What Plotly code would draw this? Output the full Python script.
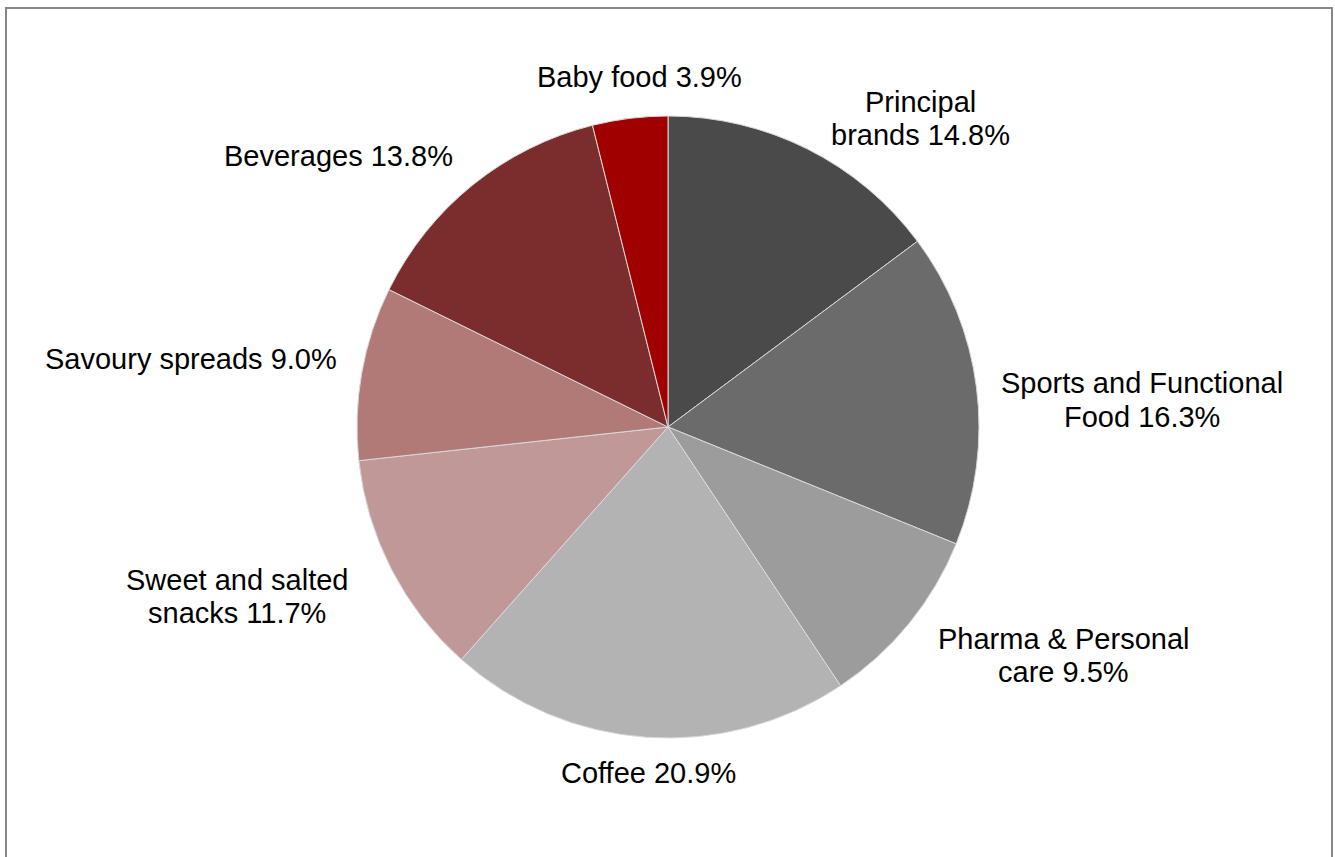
import plotly.graph_objects as go

categories = [
    "Principal|brands",
    "Sports and Functional|Food",
    "Pharma & Personal|care",
    "Coffee",
    "Sweet and salted|snacks",
    "Savoury spreads",
    "Beverages",
    "Baby food",
]
shares = [14.8, 16.3, 9.5, 20.9, 11.7, 9.0, 13.8, 3.9]
colors = ["#4a4a4a", "#6b6b6b", "#9c9c9c", "#b3b3b3",
          "#c09898", "#b27a77", "#7b2c2c", "#a00000"]

# layout: label block centres in page pixels (x, y)
label_pos = [(920, 119), (1142, 400), (1063, 655), (648, 773),
             (237, 596), (191, 359), (338, 156), (639, 77)]

W, H = 1335, 857
cx, cy, r = 668, 427, 311
FS = 29
LINE = 33

fig = go.Figure(go.Pie(
    labels=[c.replace("|", " ") for c in categories],
    values=shares,
    sort=False,
    direction="clockwise",
    rotation=0,
    marker=dict(colors=colors, line=dict(color="#d9d9d9", width=1)),
    textinfo="none",
    domain=dict(x=[(cx - r) / W, (cx + r) / W], y=[(H - cy - r) / H, (H - cy + r) / H]),
    showlegend=False,
    hoverinfo="label+percent",
))

annotations = []
for cat, val, (px, py) in zip(categories, shares, label_pos):
    lines = (cat + f" {val:.1f}%").split("|")
    n = len(lines)
    for i, line in enumerate(lines):
        ly = py + (i - (n - 1) / 2) * LINE
        annotations.append(dict(
            x=px / W, y=1 - ly / H, xref="paper", yref="paper",
            text=line, showarrow=False, xanchor="center", yanchor="middle",
            font=dict(family="Liberation Sans, Arial, sans-serif", size=FS, color="#000000"),
        ))

fig.update_layout(
    width=W, height=H,
    margin=dict(l=0, r=0, t=0, b=0),
    paper_bgcolor="white",
    plot_bgcolor="white",
    annotations=annotations,
    shapes=[dict(type="rect", xref="paper", yref="paper",
                 x0=6 / W, x1=1332 / W, y0=-0.05, y1=(H - 8) / H,
                 line=dict(color="#888888", width=2), fillcolor="rgba(0,0,0,0)")],
)

fig.write_html("out.html", config={"displayModeBar": False},
               post_script="document.body.style.margin='0';")
